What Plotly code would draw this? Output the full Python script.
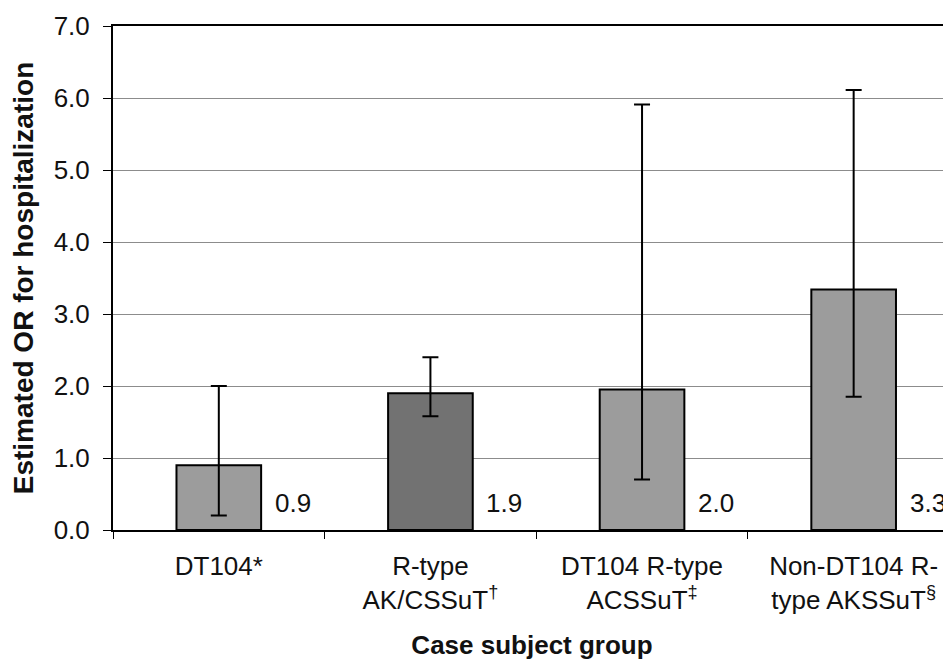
import plotly.graph_objects as go

categories = ["DT104*", "R-type<br>AK/CSSuT<sup>†</sup>", "DT104 R-type<br>ACSSuT<sup>‡</sup>",
              "Non-DT104 R-<br>type AKSSuT<sup>§</sup>"]
or_values = [0.9, 1.9, 1.95, 3.34]
ci_lower = [0.2, 1.58, 0.7, 1.85]
ci_upper = [2.0, 2.4, 5.91, 6.11]
value_labels = ["0.9", "1.9", "2.0", "3.3"]
bar_colors = ["#9c9c9c", "#727272", "#9c9c9c", "#9c9c9c"]
y_ticks = [0, 1, 2, 3, 4, 5, 6, 7]

FONT = "Liberation Sans, Arial, sans-serif"

fig = go.Figure()
fig.add_trace(go.Bar(
    x=categories,
    y=or_values,
    width=0.4,
    marker=dict(color=bar_colors, line=dict(color="black", width=2)),
    error_y=dict(
        type="data",
        symmetric=False,
        array=[u - v for u, v in zip(ci_upper, or_values)],
        arrayminus=[v - l for v, l in zip(or_values, ci_lower)],
        color="black",
        thickness=2,
        width=8,
    ),
    showlegend=False,
    hoverinfo="skip",
))

for i, lab in enumerate(value_labels):
    fig.add_annotation(
        x=i + 0.255, y=0, xref="x", yref="y",
        text=lab, showarrow=False, xanchor="left", yanchor="middle",
        yshift=27, font=dict(family=FONT, size=26, color="#111"),
    )

# page body has an 8px default margin; keep the figure inside the viewport
fig.update_layout(
    width=943, height=652,
    margin=dict(l=105, r=0, t=18, b=126),
    plot_bgcolor="white", paper_bgcolor="white",
    font=dict(family=FONT, color="#111"),
    bargap=0.6,
)

fig.update_xaxes(
    type="category",
    range=[-0.5, 3.46],
    showline=True, linecolor="black", linewidth=2, mirror=True,
    ticks="outside", tickson="boundaries", ticklen=7, tickcolor="black", tickwidth=1,
    ticklabelstandoff=12,
    tickfont=dict(family=FONT, size=26, color="#111"),
    showgrid=False,
    title=dict(text="<b>Case subject group</b>", font=dict(family=FONT, size=26, color="#111"), standoff=27),
)

fig.update_yaxes(
    range=[0, 7],
    tickvals=y_ticks,
    ticktext=[f"{v:.1f}" for v in y_ticks],
    showline=True, linecolor="black", linewidth=2,
    ticks="outside", ticklen=8, tickcolor="black", tickwidth=1,
    ticklabelstandoff=8,
    tickfont=dict(family=FONT, size=26, color="#111"),
    showgrid=True, gridcolor="#8c8c8c", gridwidth=1,
    zeroline=False,
    title=dict(text="<b>Estimated OR for hospitalization</b>", font=dict(family=FONT, size=28, color="#111"), standoff=24),
)

fig.write_html("out.html")
